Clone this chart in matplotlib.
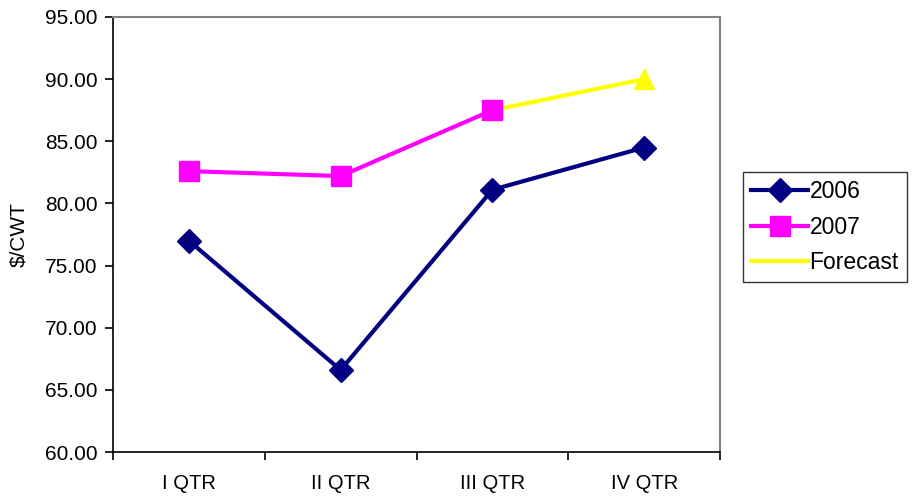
import matplotlib.pyplot as plt
import numpy as np

plt.rcParams['font.family'] = ['Liberation Sans', 'DejaVu Sans']

quarters = ["I QTR", "II QTR", "III QTR", "IV QTR"]
y2006 = [77.0, 66.6, 81.1, 84.5]
y2007 = [82.6, 82.2, 87.5]
forecast_q = [2, 3]
forecast = [87.5, 90.0]

fig = plt.figure(figsize=(9.13, 4.98), dpi=100)
ax = fig.add_axes([113/913, 1 - 452/498, (720-113)/913, (452-17)/498])

x = np.arange(len(quarters))
ax.plot(forecast_q, forecast, '-', color="#FFFF00", linewidth=3, label="Forecast", zorder=2)
ax.plot(forecast_q[1:], forecast[1:], '^', color="#FFFF00", markersize=15, zorder=2)
ax.plot(x, y2006, '-D', color="#000080", linewidth=3, markersize=12, label="2006", zorder=3)
ax.plot(x[:3], y2007, '-s', color="#FF00FF", linewidth=3, markersize=15, label="2007", zorder=3)

ax.set_xlim(-0.5, 3.5)
ax.set_ylim(60, 95)
ax.set_yticks(np.arange(60, 96, 5))
ax.set_yticklabels([f"{v:.2f}" for v in np.arange(60, 96, 5)])
ax.set_xticks(x)
ax.set_xticklabels(quarters)
ax.set_xticks(np.arange(-0.5, 3.6, 1), minor=True)
ax.tick_params(axis='x', which='major', length=0, pad=16, labelsize=14.5)
ax.tick_params(axis='x', which='minor', length=6, width=1.2, direction='out')
ax.tick_params(axis='y', length=6, width=1.2, direction='out', labelsize=15, pad=5)
ax.set_ylabel("$/CWT", fontsize=15, labelpad=12)

for s in ['top', 'right']:
    ax.spines[s].set_color("#808080")
    ax.spines[s].set_linewidth(1.5)
for s in ['left', 'bottom']:
    ax.spines[s].set_color("black")
    ax.spines[s].set_linewidth(1.2)

h, l = ax.get_legend_handles_labels()
order = [l.index("2006"), l.index("2007"), l.index("Forecast")]
leg = fig.legend([h[i] for i in order], [l[i] for i in order],
                 loc='upper left', bbox_to_anchor=(743/913, 1 - 172/498),
                 fontsize=16.5, frameon=True, fancybox=False, borderpad=0.35,
                 handlelength=2.5, handletextpad=0.05, labelspacing=0.55,
                 borderaxespad=0)
leg.get_frame().set_edgecolor("black")
leg.get_frame().set_linewidth(1.0)

fig.savefig("out.png", dpi=100)
